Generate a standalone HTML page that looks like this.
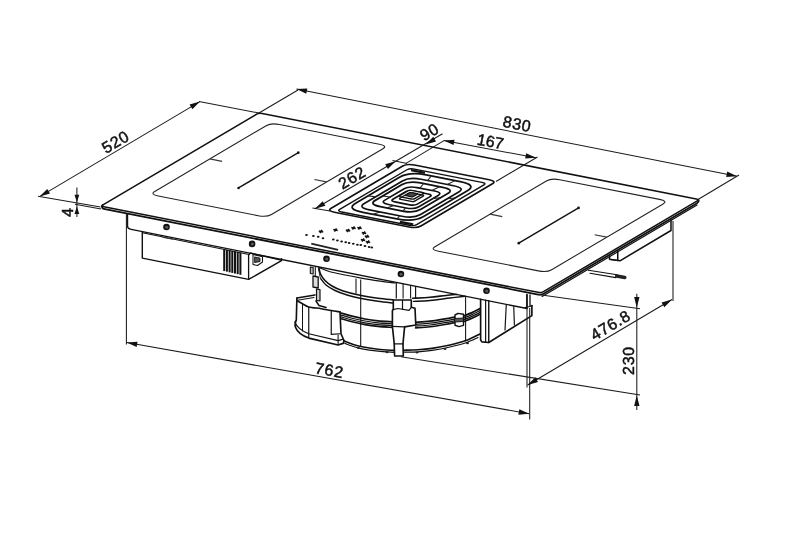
<!DOCTYPE html>
<html><head><meta charset="utf-8"><title>Drawing</title>
<style>
html,body{margin:0;padding:0;background:#fff;}
body{width:800px;height:547px;overflow:hidden;font-family:"Liberation Sans",sans-serif;}
svg{display:block;will-change:transform;text-rendering:geometricPrecision;font-family:"Liberation Sans",sans-serif;}
</style></head><body>
<svg width="800" height="547" viewBox="0 0 800 547">
<rect width="800" height="547" fill="#fff"/>
<path d="M103.88,206.83 L538.02,292.37 Q541.2,293 543.03,291.92 L697.67,200.68 Q699.5,199.6 696.32,198.97 L262.18,113.43 Q259,112.8 257.17,113.88 L102.53,205.12 Q100.7,206.2 103.88,206.83 Z" fill="none" stroke="#111" stroke-width="1.53" stroke-linejoin="round" stroke-linecap="round" />
<path d="M102.53,205.12 Q100.7,208.3 104.95,209.14 L536.95,294.26 Q541.2,295.1 543.64,293.66 L697.06,203.14 Q699.5,200.86 698.36,199.85" fill="none" stroke="#111" stroke-width="1.77" stroke-linejoin="round" stroke-linecap="round" />
<path d="M158.35,196 L258.13,215.66 Q266.62,217.33 271.49,214.46 L382.91,148.72 Q387.78,145.84 379.29,144.17 L279.51,124.51 Q271.02,122.84 266.15,125.71 L154.73,191.45 Q149.86,194.32 158.35,196 Z" fill="none" stroke="#222" stroke-width="1.06" stroke-linejoin="round" stroke-linecap="round" />
<line x1="238.53" y1="187.95" x2="298.35" y2="152.66" stroke="#111" stroke-width="1.36" />
<circle cx="238.53" cy="187.95" r="1.3" fill="#111"/>
<circle cx="298.35" cy="152.66" r="1.3" fill="#111"/>
<line x1="209.83" y1="158.94" x2="222.04" y2="161.34" stroke="#383838" stroke-width="1.18" />
<line x1="314.38" y1="179.54" x2="326.59" y2="181.95" stroke="#383838" stroke-width="1.18" />
<path d="M438.57,251.21 L538.35,270.87 Q546.84,272.55 551.71,269.67 L663.13,203.93 Q668,201.06 659.51,199.39 L559.73,179.73 Q551.24,178.05 546.37,180.93 L434.95,246.67 Q430.08,249.54 438.57,251.21 Z" fill="none" stroke="#222" stroke-width="1.06" stroke-linejoin="round" stroke-linecap="round" />
<line x1="518.75" y1="243.17" x2="578.57" y2="207.88" stroke="#111" stroke-width="1.36" />
<circle cx="518.75" cy="243.17" r="1.3" fill="#111"/>
<circle cx="578.57" cy="207.88" r="1.3" fill="#111"/>
<line x1="490.05" y1="214.16" x2="502.26" y2="216.56" stroke="#383838" stroke-width="1.18" />
<line x1="594.6" y1="234.76" x2="606.81" y2="237.16" stroke="#383838" stroke-width="1.18" />
<path d="M334.37,212.23 L409.2,226.98 Q416.63,228.44 420.9,225.93 L492.44,183.72 Q496.7,181.2 489.27,179.74 L414.44,164.99 Q407.01,163.53 402.74,166.04 L331.2,208.25 Q326.94,210.77 334.37,212.23 Z" fill="none" stroke="#111" stroke-width="1.65" stroke-linejoin="round" stroke-linecap="round" />
<path d="M341.74,212.01 L409.14,225.29 Q413.92,226.23 416.66,224.61 L483.94,184.92 Q486.68,183.3 481.9,182.36 L414.5,169.08 Q409.72,168.14 406.98,169.76 L339.7,209.45 Q336.96,211.07 341.74,212.01 Z" fill="none" stroke="#111" stroke-width="1.42" stroke-linejoin="round" stroke-linecap="round" />
<clipPath id="gc"><path d="M341.74,212.01 L409.14,225.29 Q413.92,226.23 416.66,224.61 L483.94,184.92 Q486.68,183.3 481.9,182.36 L414.5,169.08 Q409.72,168.14 406.98,169.76 L339.7,209.45 Q336.96,211.07 341.74,212.01 Z"/></clipPath>
<g clip-path="url(#gc)">
<path d="M362.87,212.3 L396.84,218.99 Q413.82,222.34 423.56,216.59 L467.4,190.73 Q477.14,184.98 460.16,181.63 L426.19,174.94 Q409.21,171.59 399.47,177.34 L355.63,203.2 Q345.89,208.95 362.87,212.3 Z" fill="none" stroke="#111" stroke-width="1.77" stroke-linejoin="round" stroke-linecap="round" />
<path d="M369.4,209.83 L401.88,216.23 Q413.77,218.57 420.59,214.55 L458.7,192.06 Q465.52,188.04 453.63,185.7 L421.15,179.3 Q409.26,176.95 402.44,180.98 L364.33,203.47 Q357.51,207.49 369.4,209.83 Z" fill="none" stroke="#111" stroke-width="1.65" stroke-linejoin="round" stroke-linecap="round" />
<line x1="455.06" y1="180.63" x2="447.24" y2="184.44" stroke="#222" stroke-width="1.06" />
<line x1="431.29" y1="175.94" x2="427.55" y2="180.56" stroke="#222" stroke-width="1.06" />
<line x1="454.98" y1="198.05" x2="447.41" y2="198.73" stroke="#222" stroke-width="1.06" />
<line x1="368.05" y1="195.88" x2="375.62" y2="196.8" stroke="#222" stroke-width="1.06" />
<line x1="373.06" y1="214.31" x2="380.01" y2="211.92" stroke="#222" stroke-width="1.06" />
<line x1="396.84" y1="218.99" x2="399.7" y2="215.8" stroke="#222" stroke-width="1.06" />
<path d="M380.28,206.62 L402.57,211.02 Q414.25,213.32 420.94,209.36 L447.73,193.56 Q454.43,189.61 442.75,187.31 L420.46,182.91 Q408.79,180.61 402.09,184.56 L375.3,200.37 Q368.6,204.32 380.28,206.62 Z" fill="none" stroke="#111" stroke-width="1.77" stroke-linejoin="round" stroke-linecap="round" />
<path d="M388.4,204.47 L406.02,207.94 Q414.19,209.55 418.88,206.79 L438.12,195.44 Q442.81,192.67 434.63,191.06 L417.01,187.59 Q408.84,185.98 404.15,188.74 L384.91,200.09 Q380.22,202.86 388.4,204.47 Z" fill="none" stroke="#111" stroke-width="1.65" stroke-linejoin="round" stroke-linecap="round" />
<line x1="439.6" y1="186.68" x2="431.77" y2="190.49" stroke="#222" stroke-width="1.06" />
<line x1="423.62" y1="183.54" x2="419.88" y2="188.15" stroke="#222" stroke-width="1.06" />
<line x1="440.36" y1="197.9" x2="432.79" y2="198.58" stroke="#222" stroke-width="1.06" />
<line x1="382.67" y1="196.02" x2="390.24" y2="196.95" stroke="#222" stroke-width="1.06" />
<line x1="386.86" y1="207.92" x2="393.81" y2="205.54" stroke="#222" stroke-width="1.06" />
<line x1="402.83" y1="211.07" x2="405.7" y2="207.88" stroke="#222" stroke-width="1.06" />
<path d="M394.95,201.89 L409.81,204.82 Q414.59,205.76 417.33,204.14 L430.12,196.6 Q432.86,194.98 428.08,194.04 L413.22,191.11 Q408.44,190.17 405.7,191.79 L392.92,199.33 Q390.18,200.95 394.95,201.89 Z" fill="none" stroke="#111" stroke-width="1.65" stroke-linejoin="round" stroke-linecap="round" />
<path d="M400.73,196.85 L411.34,198.94 Q413.47,199.36 414.68,198.64 L423.21,193.61 Q424.43,192.9 422.3,192.48 L411.69,190.39 Q409.57,189.97 408.35,190.69 L399.82,195.71 Q398.61,196.43 400.73,196.85 Z" fill="#fff" stroke="#111" stroke-width="1.42" stroke-linejoin="round" stroke-linecap="round" />
<path d="M400.73,199.35 L411.34,201.44 Q413.47,201.86 414.68,201.14 L423.21,196.11 Q424.43,195.4 422.3,194.98 L411.69,192.89 Q409.57,192.47 408.35,193.19 L399.82,198.21 Q398.61,198.93 400.73,199.35 Z" fill="none" stroke="#111" stroke-width="1.30" stroke-linejoin="round" stroke-linecap="round" />
<path d="M406.12,195.76 L411.43,196.8 Q412.49,197.01 413.1,196.65 L417.36,194.14 Q417.97,193.78 416.91,193.57 L411.6,192.52 Q410.54,192.32 409.93,192.68 L405.67,195.19 Q405.06,195.55 406.12,195.76 Z" fill="#444" stroke="#111" stroke-width="1.18" stroke-linejoin="round" stroke-linecap="round" />
</g>
<line x1="411.11" y1="170.09" x2="424.91" y2="172.81" stroke="#111" stroke-width="2.36" />
<line x1="399.93" y1="221.8" x2="413.2" y2="224.41" stroke="#111" stroke-width="2.36" />
<ellipse cx="306.5" cy="235" rx="1.35" ry="1.0" fill="#111"/>
<ellipse cx="313.4" cy="236.1" rx="1.35" ry="1.0" fill="#111"/>
<ellipse cx="318.2" cy="236.8" rx="1.35" ry="1.0" fill="#111"/>
<ellipse cx="323" cy="238.2" rx="1.35" ry="1.0" fill="#111"/>
<ellipse cx="333.3" cy="239.6" rx="1.35" ry="1.0" fill="#111"/>
<ellipse cx="337.4" cy="240.5" rx="1.35" ry="1.0" fill="#111"/>
<ellipse cx="341.6" cy="241.6" rx="1.35" ry="1.0" fill="#111"/>
<ellipse cx="345.7" cy="242.3" rx="1.35" ry="1.0" fill="#111"/>
<ellipse cx="349.1" cy="243" rx="1.35" ry="1.0" fill="#111"/>
<ellipse cx="353.3" cy="243.7" rx="1.35" ry="1.0" fill="#111"/>
<ellipse cx="357.4" cy="244.7" rx="1.35" ry="1.0" fill="#111"/>
<ellipse cx="360.8" cy="245.1" rx="1.35" ry="1.0" fill="#111"/>
<ellipse cx="365" cy="246" rx="1.35" ry="1.0" fill="#111"/>
<ellipse cx="369.1" cy="246.9" rx="1.35" ry="1.0" fill="#111"/>
<ellipse cx="371.8" cy="247.4" rx="1.35" ry="1.0" fill="#111"/>
<line x1="311.3" y1="243.7" x2="338.1" y2="249.9" stroke="#222" stroke-width="1.89" />
<line x1="318.8" y1="231.06" x2="323.2" y2="231.94" stroke="#111" stroke-width="1.65" />
<line x1="319.9" y1="233.04" x2="322.1" y2="229.96" stroke="#111" stroke-width="1.65" />
<line x1="333.3" y1="229.56" x2="337.7" y2="230.44" stroke="#111" stroke-width="1.65" />
<line x1="334.4" y1="231.54" x2="336.6" y2="228.46" stroke="#111" stroke-width="1.65" />
<line x1="345.8" y1="230.06" x2="350.2" y2="230.94" stroke="#111" stroke-width="1.65" />
<line x1="346.9" y1="232.04" x2="349.1" y2="228.96" stroke="#111" stroke-width="1.65" />
<line x1="351.3" y1="227.56" x2="355.7" y2="228.44" stroke="#111" stroke-width="1.65" />
<line x1="352.4" y1="229.54" x2="354.6" y2="226.46" stroke="#111" stroke-width="1.65" />
<line x1="357.3" y1="227.56" x2="361.7" y2="228.44" stroke="#111" stroke-width="1.65" />
<line x1="358.4" y1="229.54" x2="360.6" y2="226.46" stroke="#111" stroke-width="1.65" />
<line x1="361.8" y1="232.56" x2="366.2" y2="233.44" stroke="#111" stroke-width="1.65" />
<line x1="362.9" y1="234.54" x2="365.1" y2="231.46" stroke="#111" stroke-width="1.65" />
<line x1="364.8" y1="236.06" x2="369.2" y2="236.94" stroke="#111" stroke-width="1.65" />
<line x1="365.9" y1="238.04" x2="368.1" y2="234.96" stroke="#111" stroke-width="1.65" />
<line x1="360.8" y1="239.56" x2="365.2" y2="240.44" stroke="#111" stroke-width="1.65" />
<line x1="361.9" y1="241.54" x2="364.1" y2="238.46" stroke="#111" stroke-width="1.65" />
<line x1="365.8" y1="241.56" x2="370.2" y2="242.44" stroke="#111" stroke-width="1.65" />
<line x1="366.9" y1="243.54" x2="369.1" y2="240.46" stroke="#111" stroke-width="1.65" />
<path d="M127.5,214 L127.5,226 Q127.5,228.7 131.25,229.4 L527,308.55 L527,295" fill="none" stroke="#111" stroke-width="1.42" stroke-linejoin="round" stroke-linecap="round" />
<circle cx="166.5" cy="227" r="3.3" fill="#111"/>
<circle cx="166.7" cy="227.2" r="1.5" fill="#5a5a5a"/>
<circle cx="252.1" cy="243.9" r="3.3" fill="#111"/>
<circle cx="252.3" cy="244.1" r="1.5" fill="#5a5a5a"/>
<circle cx="326.5" cy="258.7" r="3.3" fill="#111"/>
<circle cx="326.7" cy="258.9" r="1.5" fill="#5a5a5a"/>
<circle cx="400.9" cy="274" r="3.3" fill="#111"/>
<circle cx="401.1" cy="274.2" r="1.5" fill="#5a5a5a"/>
<circle cx="486.5" cy="290.8" r="3.3" fill="#111"/>
<circle cx="486.7" cy="291" r="1.5" fill="#5a5a5a"/>
<line x1="142.3" y1="232.8" x2="249" y2="254.4" stroke="#111" stroke-width="1.06" />
<path d="M142.3,232 L142.3,258.1 L248.6,279.4 L281.5,260.7 L281.5,258.6" fill="none" stroke="#111" stroke-width="1.42" stroke-linejoin="round" stroke-linecap="round" />
<path d="M248.6,279.4 L248.6,255 L250.5,253 L281,260.2" fill="none" stroke="#111" stroke-width="1.30" stroke-linejoin="round" stroke-linecap="round" />
<line x1="224.2" y1="249.44" x2="224.2" y2="271.06" stroke="#111" stroke-width="2.01" />
<line x1="226.9" y1="249.98" x2="226.9" y2="271.68" stroke="#111" stroke-width="2.01" />
<line x1="229.6" y1="250.52" x2="229.6" y2="272.3" stroke="#111" stroke-width="2.01" />
<line x1="232.3" y1="251.06" x2="232.3" y2="272.92" stroke="#111" stroke-width="2.01" />
<line x1="235" y1="251.6" x2="235" y2="273.54" stroke="#111" stroke-width="2.01" />
<line x1="237.7" y1="252.14" x2="237.7" y2="274.17" stroke="#111" stroke-width="2.01" />
<line x1="240.4" y1="252.68" x2="240.4" y2="274.79" stroke="#111" stroke-width="2.01" />
<path d="M253,254.5 L262.5,256.7 L262.5,262 L257.5,265.5 L253,264.5 Z" fill="none" stroke="#111" stroke-width="1.06" stroke-linejoin="round" stroke-linecap="round" />
<path d="M255,257 L260,258.2 L260,261.5 L255,262.5 Z" fill="#555" stroke="#111" stroke-width="0.94" stroke-linejoin="round" stroke-linecap="round" />
<line x1="162.5" y1="237.3" x2="173" y2="239.3" stroke="#333" stroke-width="0.94" />
<path d="M318.8,267.5 C319.08,268.58 319.47,271.83 320.5,274 C321.53,276.17 323.08,278.5 325,280.5 C326.92,282.5 329.08,284.3 332,286 C334.92,287.7 337.83,289.15 342.5,290.7 C347.17,292.25 354.08,294.03 360,295.3 C365.92,296.57 372.5,297.55 378,298.3 C383.5,299.05 390.5,299.55 393,299.8" fill="none" stroke="#111" stroke-width="1.65" stroke-linejoin="round" stroke-linecap="round" />
<path d="M321,279 C321.83,280 323.67,283.08 326,285 C328.33,286.92 331.5,288.83 335,290.5 C338.5,292.17 342.83,293.7 347,295 C351.17,296.3 354.83,297.25 360,298.3 C365.17,299.35 372.5,300.52 378,301.3 C383.5,302.08 390.5,302.72 393,303" fill="none" stroke="#111" stroke-width="1.42" stroke-linejoin="round" stroke-linecap="round" />
<path d="M412.5,298.3 C415.42,298.13 424.42,297.78 430,297.3 C435.58,296.82 441.5,295.88 446,295.4 C450.5,294.92 455.17,294.57 457,294.4" fill="none" stroke="#111" stroke-width="1.53" stroke-linejoin="round" stroke-linecap="round" />
<path d="M413.5,301.4 C416.25,301.25 423.92,301.07 430,300.5 C436.08,299.93 444.17,298.7 450,298 C455.83,297.3 462.5,296.58 465,296.3" fill="none" stroke="#111" stroke-width="1.42" stroke-linejoin="round" stroke-linecap="round" />
<path d="M341.3,313.1 C343.08,313.62 348.05,315.22 352,316.2 C355.95,317.18 360.67,318.23 365,319 C369.33,319.77 373.42,320.33 378,320.8 C382.58,321.27 390.08,321.63 392.5,321.8" fill="none" stroke="#111" stroke-width="1.77" stroke-linejoin="round" stroke-linecap="round" />
<path d="M415.6,322.3 C418,322.12 425.1,321.77 430,321.2 C434.9,320.63 440.83,319.62 445,318.9 C449.17,318.18 453.33,317.23 455,316.9" fill="none" stroke="#111" stroke-width="1.77" stroke-linejoin="round" stroke-linecap="round" />
<path d="M463.5,316 C464.92,315.43 469.25,313.83 472,312.6 C474.75,311.37 478.67,309.27 480,308.6" fill="none" stroke="#111" stroke-width="1.77" stroke-linejoin="round" stroke-linecap="round" />
<path d="M341.3,315.1 C343.08,315.62 348.05,317.22 352,318.2 C355.95,319.18 360.67,320.23 365,321 C369.33,321.77 373.42,322.33 378,322.8 C382.58,323.27 390.08,323.63 392.5,323.8" fill="none" stroke="#111" stroke-width="1.18" stroke-linejoin="round" stroke-linecap="round" />
<path d="M415.6,324.3 C418,324.12 425.1,323.77 430,323.2 C434.9,322.63 440.83,321.62 445,320.9 C449.17,320.18 453.33,319.23 455,318.9" fill="none" stroke="#111" stroke-width="1.18" stroke-linejoin="round" stroke-linecap="round" />
<path d="M463.5,318 C464.92,317.43 469.25,315.83 472,314.6 C474.75,313.37 478.67,311.27 480,310.6" fill="none" stroke="#111" stroke-width="1.18" stroke-linejoin="round" stroke-linecap="round" />
<path d="M341.3,316.9 C343.08,317.42 348.05,319.02 352,320 C355.95,320.98 360.67,322.03 365,322.8 C369.33,323.57 373.42,324.13 378,324.6 C382.58,325.07 390.08,325.43 392.5,325.6" fill="none" stroke="#111" stroke-width="1.18" stroke-linejoin="round" stroke-linecap="round" />
<path d="M415.6,326.1 C418,325.92 425.1,325.57 430,325 C434.9,324.43 440.83,323.42 445,322.7 C449.17,321.98 453.33,321.03 455,320.7" fill="none" stroke="#111" stroke-width="1.18" stroke-linejoin="round" stroke-linecap="round" />
<path d="M463.5,319.8 C464.92,319.23 469.25,317.63 472,316.4 C474.75,315.17 478.67,313.07 480,312.4" fill="none" stroke="#111" stroke-width="1.18" stroke-linejoin="round" stroke-linecap="round" />
<path d="M341.3,318.7 C343.08,319.22 348.05,320.82 352,321.8 C355.95,322.78 360.67,323.83 365,324.6 C369.33,325.37 373.42,325.93 378,326.4 C382.58,326.87 390.08,327.23 392.5,327.4" fill="none" stroke="#111" stroke-width="1.65" stroke-linejoin="round" stroke-linecap="round" />
<path d="M415.6,327.9 C418,327.72 425.1,327.37 430,326.8 C434.9,326.23 440.83,325.22 445,324.5 C449.17,323.78 453.33,322.83 455,322.5" fill="none" stroke="#111" stroke-width="1.65" stroke-linejoin="round" stroke-linecap="round" />
<path d="M463.5,321.6 C464.92,321.03 469.25,319.43 472,318.2 C474.75,316.97 478.67,314.87 480,314.2" fill="none" stroke="#111" stroke-width="1.65" stroke-linejoin="round" stroke-linecap="round" />
<path d="M344,340.8 C345.33,341.33 349,343 352,344 C355,345 357.67,345.93 362,346.8 C366.33,347.67 372.67,348.6 378,349.2 C383.33,349.8 391.33,350.2 394,350.4" fill="none" stroke="#111" stroke-width="1.65" stroke-linejoin="round" stroke-linecap="round" />
<path d="M345,343.4 C346.17,343.83 349.17,345.1 352,346 C354.83,346.9 357.67,347.93 362,348.8 C366.33,349.67 372.67,350.6 378,351.2 C383.33,351.8 391.33,352.2 394,352.4" fill="none" stroke="#111" stroke-width="1.18" stroke-linejoin="round" stroke-linecap="round" />
<path d="M403.5,350.2 C405.92,350.13 413.25,350.1 418,349.8 C422.75,349.5 426.67,349.2 432,348.4 C437.33,347.6 444.33,346.3 450,345 C455.67,343.7 461,342.43 466,340.6 C471,338.77 477.67,335.1 480,334" fill="none" stroke="#111" stroke-width="1.65" stroke-linejoin="round" stroke-linecap="round" />
<path d="M403.5,352.2 C405.92,352.13 413.25,352.1 418,351.8 C422.75,351.5 426.67,351.2 432,350.4 C437.33,349.6 444.33,348.27 450,347 C455.67,345.73 461.33,344.38 466,342.8 C470.67,341.22 476,338.38 478,337.5" fill="none" stroke="#111" stroke-width="1.18" stroke-linejoin="round" stroke-linecap="round" />
<ellipse cx="358.5" cy="348" rx="1.5" ry="1.1" fill="#222"/>
<ellipse cx="387" cy="352.2" rx="1.5" ry="1.1" fill="#222"/>
<ellipse cx="417" cy="352.5" rx="1.5" ry="1.1" fill="#222"/>
<ellipse cx="445" cy="349" rx="1.5" ry="1.1" fill="#222"/>
<ellipse cx="467.5" cy="343.2" rx="1.5" ry="1.1" fill="#222"/>
<line x1="360.7" y1="279.5" x2="360.7" y2="347" stroke="#111" stroke-width="1.06" />
<line x1="356" y1="278.5" x2="356" y2="293.5" stroke="#111" stroke-width="1.06" />
<line x1="465.6" y1="296.5" x2="465.6" y2="341.3" stroke="#111" stroke-width="1.06" />
<path d="M318.75,267.5 C320.62,268.22 325.62,270.55 330,271.8 C334.38,273.05 340,274 345,275 C350,276 354.5,276.83 360,277.8 C365.5,278.77 372.17,279.93 378,280.8 C383.83,281.67 392.17,282.63 395,283" fill="none" stroke="#111" stroke-width="1.18" stroke-linejoin="round" stroke-linecap="round" />
<line x1="396.3" y1="282.41" x2="396.3" y2="298.5" stroke="#111" stroke-width="1.18" />
<line x1="403.1" y1="283.77" x2="403.1" y2="298.5" stroke="#111" stroke-width="1.06" />
<line x1="410.6" y1="285.27" x2="410.6" y2="298.5" stroke="#111" stroke-width="1.06" />
<line x1="415.6" y1="286.27" x2="415.6" y2="298.5" stroke="#111" stroke-width="1.18" />
<path d="M393.3,300 L411.3,300 L411.3,307.3 L415,308.3 L415.8,325 L404.6,326.9 L403,343.5 L403.3,356 L394.6,356 L394.2,343.5 L392.4,326.4 L392.4,310.6 L393.3,309 Z" fill="#fff" stroke="#111" stroke-width="1.65" stroke-linejoin="round" stroke-linecap="round" />
<path d="M393.3,309.6 L398,308.5 L409,310.3 L411.3,307.3" fill="none" stroke="#111" stroke-width="1.18" stroke-linejoin="round" stroke-linecap="round" />
<path d="M402.5,300 L402.5,309.2" fill="none" stroke="#111" stroke-width="1.18" stroke-linejoin="round" stroke-linecap="round" />
<path d="M392.4,326.4 L404.6,326.9" fill="none" stroke="#111" stroke-width="1.30" stroke-linejoin="round" stroke-linecap="round" />
<path d="M394.2,343.8 L403,343.8" fill="none" stroke="#111" stroke-width="1.18" stroke-linejoin="round" stroke-linecap="round" />
<path d="M455,315 L458,313.4 L463.5,314.3 L463.5,325.4 L459,326.6 L455,325.3 Z" fill="#fff" stroke="#111" stroke-width="1.42" stroke-linejoin="round" stroke-linecap="round" />
<path d="M455,318.5 L463.5,318 L463.5,321.5 L455,322 Z" fill="#555" stroke="#111" stroke-width="0.94" stroke-linejoin="round" stroke-linecap="round" />
<path d="M296.9,298.1 L315,295" fill="none" stroke="#111" stroke-width="1.53" stroke-linejoin="round" stroke-linecap="round" />
<path d="M297.5,300.3 L314,297.5" fill="none" stroke="#111" stroke-width="1.06" stroke-linejoin="round" stroke-linecap="round" />
<path d="M296.9,300.6 C297.83,301.12 300.52,302.7 302.5,303.75 C304.48,304.8 305.62,306.07 308.75,306.9 C311.88,307.73 317.5,308.13 321.25,308.75 C325,309.37 328.12,310.08 331.25,310.6 C334.38,311.12 338.54,311.68 340,311.9" fill="none" stroke="#111" stroke-width="1.53" stroke-linejoin="round" stroke-linecap="round" />
<path d="M296.9,298.1 L296.3,320 Q294.2,323.5 295.6,327.5 Q298,334 308.75,338.1 L338.1,345 L343.75,343.1 L343.75,340 L341,333.75 L340,311.9" fill="none" stroke="#111" stroke-width="1.65" stroke-linejoin="round" stroke-linecap="round" />
<path d="M295,321.9 Q297,329 308.75,333.75 L338.1,340.6 L342.5,339.4" fill="none" stroke="#111" stroke-width="1.18" stroke-linejoin="round" stroke-linecap="round" />
<line x1="302.5" y1="303.9" x2="302.5" y2="331.3" stroke="#111" stroke-width="1.06" />
<line x1="308.75" y1="306.9" x2="308.75" y2="338.1" stroke="#111" stroke-width="1.18" />
<path d="M331.25,310.6 L331.25,334.4 L340,333.75" fill="none" stroke="#111" stroke-width="1.18" stroke-linejoin="round" stroke-linecap="round" />
<line x1="338.1" y1="334.4" x2="338.1" y2="345" stroke="#111" stroke-width="1.06" />
<path d="M310.3,267 L313.2,267.6 L313.2,274 L310.3,273.4 Z" fill="#bbb" stroke="#111" stroke-width="1.06" stroke-linejoin="round" stroke-linecap="round" />
<path d="M313,276 L318.2,277 L318.2,288 L313,287 Z" fill="#ddd" stroke="#111" stroke-width="1.30" stroke-linejoin="round" stroke-linecap="round" />
<path d="M316.5,289 L320,289.7 L320,301 L316.5,300.3 Z" fill="#ccc" stroke="#111" stroke-width="1.18" stroke-linejoin="round" stroke-linecap="round" />
<line x1="315.3" y1="267" x2="315.3" y2="276.5" stroke="#111" stroke-width="1.06" />
<line x1="318.6" y1="269" x2="320.5" y2="279" stroke="#111" stroke-width="0.94" />
<path d="M316,301 L319,305.5 L326,307.5" fill="none" stroke="#111" stroke-width="1.53" stroke-linejoin="round" stroke-linecap="round" />
<path d="M480.62,299.38 L480.62,340 L481.88,341.88 L488.75,342.5 L531.88,315.62 L531.88,305.62" fill="none" stroke="#111" stroke-width="1.65" stroke-linejoin="round" stroke-linecap="round" />
<path d="M485.62,300 L485.62,341.88" fill="none" stroke="#111" stroke-width="1.18" stroke-linejoin="round" stroke-linecap="round" />
<path d="M488.75,300.62 L488.75,342.5" fill="none" stroke="#111" stroke-width="1.42" stroke-linejoin="round" stroke-linecap="round" />
<path d="M506.25,305 L505,330" fill="none" stroke="#111" stroke-width="1.18" stroke-linejoin="round" stroke-linecap="round" />
<path d="M513.75,306.5 L514.38,325" fill="none" stroke="#111" stroke-width="1.18" stroke-linejoin="round" stroke-linecap="round" />
<path d="M526.88,294.38 L526.88,307.5" fill="none" stroke="#111" stroke-width="1.42" stroke-linejoin="round" stroke-linecap="round" />
<path d="M530,295 L530,306.25 L532.12,305.62" fill="none" stroke="#111" stroke-width="1.30" stroke-linejoin="round" stroke-linecap="round" />
<path d="M525,307.5 L530,306.5" fill="none" stroke="#111" stroke-width="1.18" stroke-linejoin="round" stroke-linecap="round" />
<path d="M542.11,296.46 L697.06,205.04" fill="none" stroke="#111" stroke-width="1.18" stroke-linejoin="round" stroke-linecap="round" />
<path d="M609.5,256 L609.5,259.3 L620,260.8 L670.99,230.5 L670.99,220" fill="none" stroke="#111" stroke-width="1.53" stroke-linejoin="round" stroke-linecap="round" />
<path d="M617.75,250.75 L617.75,260.5" fill="none" stroke="#111" stroke-width="1.53" stroke-linejoin="round" stroke-linecap="round" />
<path d="M609.5,259.3 L617.75,260.5" fill="none" stroke="#111" stroke-width="1.18" stroke-linejoin="round" stroke-linecap="round" />
<path d="M588.5,270.25 L617,274.75" fill="none" stroke="#111" stroke-width="1.18" stroke-linejoin="round" stroke-linecap="round" />
<path d="M590,273.25 L615.8,277.6" fill="none" stroke="#111" stroke-width="1.18" stroke-linejoin="round" stroke-linecap="round" />
<path d="M616.7,276.1 L624.8,277.45" fill="none" stroke="#222" stroke-width="3.54" stroke-linejoin="round" stroke-linecap="round" />
<line x1="39.6" y1="196.6" x2="200" y2="101.6" stroke="#1c1c1c" stroke-width="1.06" />
<polygon points="39.6,196.6 47.26,188.93 50.01,193.58" fill="#111"/>
<polygon points="200,101.6 192.34,109.27 189.59,104.62" fill="#111"/>
<line x1="38" y1="196.3" x2="100.5" y2="206.9" stroke="#1c1c1c" stroke-width="1.06" />
<line x1="199" y1="101.4" x2="259" y2="113" stroke="#1c1c1c" stroke-width="1.06" />
<text x="0" y="0" transform="translate(116,142.8) rotate(-30.5)" font-size="16" text-anchor="middle" dominant-baseline="central" letter-spacing="0.7" fill="#111" stroke="#111" stroke-width="0.48">520</text>
<line x1="296.5" y1="89" x2="737" y2="176.3" stroke="#1c1c1c" stroke-width="1.06" />
<polygon points="296.5,89 307.32,88.39 306.28,93.69" fill="#111"/>
<polygon points="737,176.3 726.18,176.91 727.22,171.61" fill="#111"/>
<line x1="259" y1="113" x2="298" y2="90" stroke="#1c1c1c" stroke-width="1.06" />
<line x1="698" y1="199.5" x2="739" y2="175" stroke="#1c1c1c" stroke-width="1.06" />
<text x="0" y="0" transform="translate(517,125) rotate(11.3)" font-size="16" text-anchor="middle" dominant-baseline="central" letter-spacing="0.7" fill="#111" stroke="#111" stroke-width="0.48">830</text>
<line x1="76.9" y1="187.5" x2="76.9" y2="216.9" stroke="#1c1c1c" stroke-width="1.06" />
<polygon points="76.9,202.2 74.5,194.7 79.3,194.7" fill="#111"/>
<polygon points="76.9,206.4 79.3,213.9 74.5,213.9" fill="#111"/>
<line x1="75" y1="204.2" x2="101" y2="209" stroke="#1c1c1c" stroke-width="1.06" />
<text x="0" y="0" transform="translate(68.6,212.3) rotate(-90)" font-size="16" text-anchor="middle" dominant-baseline="central" letter-spacing="0.7" fill="#111" stroke="#111" stroke-width="0.48">4</text>
<line x1="312.5" y1="208" x2="330" y2="211" stroke="#1c1c1c" stroke-width="1.06" />
<line x1="315" y1="208.8" x2="442.5" y2="133.8" stroke="#1c1c1c" stroke-width="1.06" />
<polygon points="315,208.8 322.68,201.14 325.42,205.8" fill="#111"/>
<polygon points="395.6,161.3 387.92,168.96 385.18,164.3" fill="#111"/>
<polygon points="425.6,144.4 433.28,136.74 436.02,141.4" fill="#111"/>
<line x1="392.5" y1="160.6" x2="407" y2="163.4" stroke="#1c1c1c" stroke-width="1.06" />
<text x="0" y="0" transform="translate(352.5,178.5) rotate(-30.5)" font-size="16" text-anchor="middle" dominant-baseline="central" letter-spacing="0.7" fill="#111" stroke="#111" stroke-width="0.48">262</text>
<text x="0" y="0" transform="translate(430,132.8) rotate(-30.5)" font-size="16" text-anchor="middle" dominant-baseline="central" letter-spacing="0.7" fill="#111" stroke="#111" stroke-width="0.48">90</text>
<line x1="406" y1="163.4" x2="444.4" y2="140.4" stroke="#1c1c1c" stroke-width="1.06" />
<line x1="443.75" y1="140.5" x2="536" y2="157.8" stroke="#1c1c1c" stroke-width="1.06" />
<polygon points="443.75,140.5 454.57,139.81 453.56,145.11" fill="#111"/>
<polygon points="536,157.8 525.18,158.49 526.19,153.19" fill="#111"/>
<line x1="537.5" y1="157" x2="496" y2="181.5" stroke="#1c1c1c" stroke-width="1.06" />
<text x="0" y="0" transform="translate(490.3,142.4) rotate(10.5)" font-size="16" text-anchor="middle" dominant-baseline="central" letter-spacing="0" fill="#111" stroke="#111" stroke-width="0.48">167</text>
<line x1="126.4" y1="214" x2="126.4" y2="344.5" stroke="#1c1c1c" stroke-width="1.06" />
<line x1="126.75" y1="342.5" x2="529.2" y2="413.8" stroke="#1c1c1c" stroke-width="1.06" />
<polygon points="126.75,342.5 137.56,341.67 136.62,346.99" fill="#111"/>
<polygon points="529.2,413.8 518.39,414.63 519.33,409.31" fill="#111"/>
<line x1="529.7" y1="308" x2="529.7" y2="419.5" stroke="#1c1c1c" stroke-width="1.06" />
<text x="0" y="0" transform="translate(329.3,371.2) rotate(10)" font-size="16" text-anchor="middle" dominant-baseline="central" letter-spacing="0.7" fill="#111" stroke="#111" stroke-width="0.48">762</text>
<line x1="527" y1="308" x2="527" y2="387.5" stroke="#1c1c1c" stroke-width="1.06" />
<line x1="527.6" y1="385" x2="672" y2="299.5" stroke="#1c1c1c" stroke-width="1.06" />
<polygon points="527.6,385 535.27,377.34 538.01,381.99" fill="#111"/>
<polygon points="672,299.5 664.33,307.16 661.59,302.51" fill="#111"/>
<line x1="673" y1="221" x2="673" y2="301" stroke="#1c1c1c" stroke-width="1.06" />
<text x="0" y="0" transform="translate(611,326) rotate(-30.5)" font-size="16" text-anchor="middle" dominant-baseline="central" letter-spacing="0.7" fill="#111" stroke="#111" stroke-width="0.48">476.8</text>
<line x1="636.8" y1="293.8" x2="636.8" y2="410" stroke="#1c1c1c" stroke-width="1.06" />
<polygon points="636.8,307.5 634.1,297 639.5,297" fill="#111"/>
<polygon points="636.8,395.5 639.5,406 634.1,406" fill="#111"/>
<line x1="538" y1="294.5" x2="640" y2="308.8" stroke="#1c1c1c" stroke-width="1.06" />
<line x1="401" y1="356.8" x2="640" y2="395" stroke="#1c1c1c" stroke-width="1.06" />
<text x="0" y="0" transform="translate(629.5,360.5) rotate(-90)" font-size="16" text-anchor="middle" dominant-baseline="central" letter-spacing="0.7" fill="#111" stroke="#111" stroke-width="0.48">230</text>
</svg>
</body></html>
